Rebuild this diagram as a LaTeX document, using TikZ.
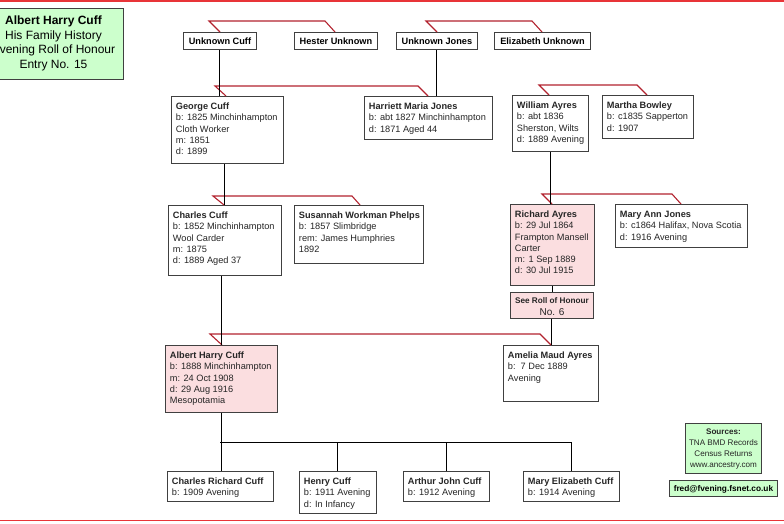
\documentclass[tikz,border=0pt]{standalone}
\usepackage{fontspec}
\setmainfont{Liberation Sans}
\definecolor{rohpink}{RGB}{251,222,224}
\definecolor{notegreen}{RGB}{204,255,204}
\definecolor{wedred}{RGB}{178,34,46}
\definecolor{rimred}{RGB}{232,52,56}
\newcommand{\famtext}[2]{\parbox[t]{#1}{\rightskip=0pt plus 1fil minus 30pt\parfillskip=0pt plus 1fil #2}}
\tikzset{
  person/.style={draw=black!75, line width=0.9pt, fill=white, anchor=north west, inner xsep=4.5pt, inner ysep=4pt, text height=9pt, text=black!85, font=\fontsize{9.2}{11.3}\selectfont},
  honour/.style={person, fill=rohpink},
  smallbox/.style={draw=black!75, line width=0.9pt, fill=white, anchor=north west, inner sep=0pt, minimum height=17pt, text height=6.5pt, text depth=0pt, font=\bfseries\fontsize{9.2}{11.3}\selectfont},
  notebox/.style={draw=black!75, line width=0.9pt, fill=notegreen, anchor=north west, inner xsep=4.5pt, inner ysep=4pt},
  wed/.style={draw=wedred, line width=1.1pt},
  kin/.style={draw=black, line width=1pt},
  rim/.style={draw=rimred, line width=1.5pt}
}
\begin{document}
\begin{tikzpicture}[x=1pt,y=-1pt]
\useasboundingbox (0,0) rectangle (784,523);
\draw[rim] (0,1) -- (784,1);
\draw[rim] (0,520.5) -- (784,520.5);
% title and notes
\node[notebox, text height=12pt, text depth=51pt] (title) at (-17,8) {\parbox[t]{131pt}{\centering\fontsize{12}{14.7}\selectfont\textbf{Albert Harry Cuff}\\His Family History\\Evening Roll of Honour\\Entry No. 15}};
\node[notebox, inner xsep=2pt, text height=7.5pt, text depth=34.5pt, text=black!85] (sources) at (685,423) {\parbox[t]{72pt}{\centering\fontsize{8.1}{10.7}\selectfont\textbf{Sources:}\\TNA BMD Records\\Census Returns\\www.ancestry.com}};
\node[notebox, inner sep=0pt, minimum width=108pt, minimum height=16pt, text height=6pt, text depth=0pt, font=\bfseries\fontsize{8.3}{10}\selectfont] (email) at (669,480) {fred@fvening.fsnet.co.uk};
% great grandparents
\node[smallbox, minimum width=73pt] (ucuff) at (183,32) {Unknown Cuff};
\node[smallbox, minimum width=83pt] (hester) at (294,32) {Hester Unknown};
\node[smallbox, minimum width=81pt] (ujones) at (396,32) {Unknown Jones};
\node[smallbox, minimum width=96pt] (elizabeth) at (494,32) {Elizabeth Unknown};
% grandparents
\node[person, text depth=50pt] (george) at (171,96) {\famtext{103pt}{\textbf{George Cuff}\\b: 1825 Minchinhampton\\Cloth Worker\\m: 1851\\d: 1899}};
\node[person, text depth=26pt] (harriett) at (364,96) {\famtext{119pt}{\textbf{Harriett Maria Jones}\\b: abt 1827 Minchinhampton\\d: 1871 Aged 44}};
\node[person, text depth=39pt] (william) at (512,95) {\famtext{67pt}{\textbf{William Ayres}\\b: abt 1836\\Sherston, Wilts\\d: 1889 Avening}};
\node[person, text depth=26pt] (martha) at (602,95) {\famtext{82pt}{\textbf{Martha Bowley}\\b: c1835 Sapperton\\d: 1907}};
% parents
\node[person, text depth=53pt] (charles) at (168,205) {\famtext{104pt}{\textbf{Charles Cuff}\\b: 1852 Minchinhampton\\Wool Carder\\m: 1875\\d: 1889 Aged 37}};
\node[person, text depth=41pt] (susannah) at (294,205) {\famtext{120pt}{\textbf{Susannah Workman Phelps}\\b: 1857 Slimbridge\\rem: James Humphries\\1892}};
\node[honour, text depth=64pt] (richard) at (510,204) {\famtext{75pt}{\textbf{Richard Ayres}\\b: 29 Jul 1864\\Frampton Mansell\\Carter\\m: 1 Sep 1889\\d: 30 Jul 1915}};
\node[person, text depth=26pt] (maryann) at (615,204) {\famtext{123pt}{\textbf{Mary Ann Jones}\\b: c1864 Halifax, Nova Scotia\\d: 1916 Avening}};
\node[honour, inner xsep=2pt, text height=7pt, text depth=11pt] (seeroll) at (510,292) {\parbox[t]{79pt}{\centering\fontsize{8.2}{10}\selectfont\textbf{See Roll of Honour}\\\fontsize{10}{12}\selectfont No. 6}};
% Albert and wife
\node[honour, text depth=50pt] (albert) at (165,345) {\famtext{103pt}{\textbf{Albert Harry Cuff}\\b: 1888 Minchinhampton\\m: 24 Oct 1908\\d: 29 Aug 1916\\Mesopotamia}};
\node[person, text depth=39pt] (amelia) at (503,345) {\famtext{86pt}{\textbf{Amelia Maud Ayres}\\b:\ \ 7 Dec 1889\\Avening}};
% children
\node[person, text depth=13pt] (crcuff) at (167,471) {\famtext{97pt}{\textbf{Charles Richard Cuff}\\b: 1909 Avening}};
\node[person, text depth=25pt] (hcuff) at (299,471) {\famtext{68pt}{\textbf{Henry Cuff}\\b: 1911 Avening\\d: In Infancy}};
\node[person, text depth=13pt] (ajcuff) at (403,471) {\famtext{77pt}{\textbf{Arthur John Cuff}\\b: 1912 Avening}};
\node[person, text depth=13pt] (mecuff) at (523,471) {\famtext{87pt}{\textbf{Mary Elizabeth Cuff}\\b: 1914 Avening}};
% marriages
\draw[wed] ([xshift=37pt]ucuff.north west) -- ++(-11pt,11pt) -- ([xshift=31pt,yshift=11pt]hester.north west) -- ++(10pt,-11pt);
\draw[wed] ([xshift=41pt]ujones.north west) -- ++(-11pt,11pt) -- ([xshift=38pt,yshift=11pt]elizabeth.north west) -- ++(10pt,-11pt);
\draw[wed] ([xshift=55pt]george.north west) -- ++(-11pt,10pt) -- ([xshift=54pt,yshift=10pt]harriett.north west) -- ++(10pt,-10pt);
\draw[wed] ([xshift=37pt]william.north west) -- ++(-10pt,10pt) -- ([xshift=35pt,yshift=10pt]martha.north west) -- ++(10pt,-10pt);
\draw[wed] ([xshift=56pt]charles.north west) -- ++(-11pt,9pt) -- ([xshift=58pt,yshift=9pt]susannah.north west) -- ++(8pt,-9pt);
\draw[wed] ([xshift=42pt]richard.north west) -- ++(-10pt,10pt) -- ([xshift=57pt,yshift=10pt]maryann.north west) -- ++(9pt,-10pt);
\draw[wed] ([xshift=57pt]albert.north west) -- ++(-12pt,11pt) -- ([xshift=37pt,yshift=11pt]amelia.north west) -- ++(11pt,-11pt);
% descent
\draw[kin] (ucuff.south) -- (ucuff.south |- george.north);
\draw[kin] (ujones.south) -- (ujones.south |- harriett.north);
\draw[kin] (charles.north) -- (charles.north |- george.south);
\draw[kin] (william.south) -- (william.south |- richard.north);
\draw[kin] (albert.north) -- (albert.north |- charles.south);
\draw[kin] (richard.south) -- (richard.south |- seeroll.north);
\draw[kin] (seeroll.south) -- (seeroll.south |- amelia.north);
\draw[kin] (albert.south) -- (albert.south |- crcuff.north);
\coordinate (kids) at (220,442);
\draw[kin] (crcuff.north |- kids) -| (mecuff.north);
\foreach \kid in {hcuff,ajcuff}
{
	\draw[kin] (\kid.north) -- (\kid.north |- kids);
}
\end{tikzpicture}
\end{document}
